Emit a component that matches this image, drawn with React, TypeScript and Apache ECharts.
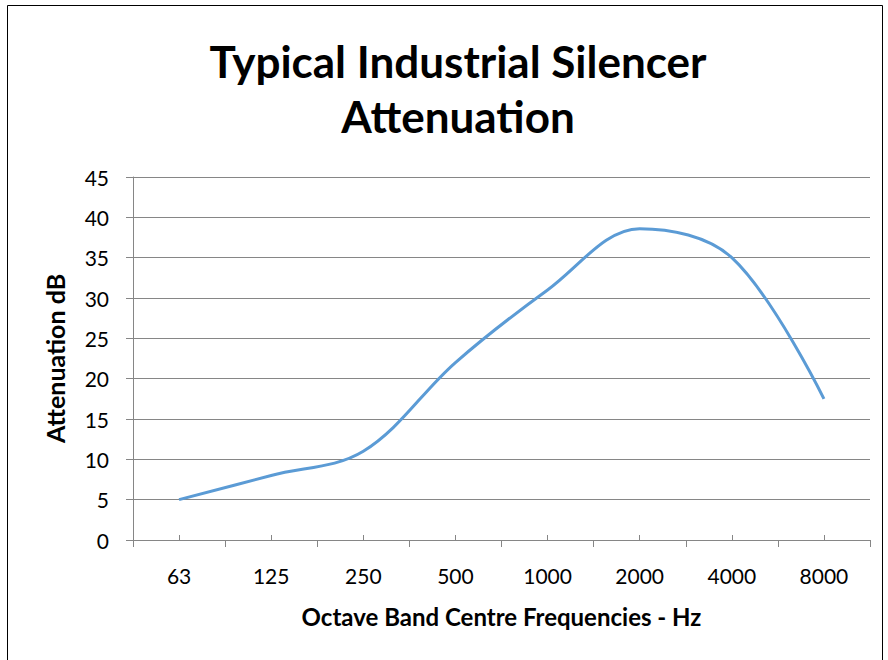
import React, { useEffect, useRef } from "react";
import * as echarts from "echarts";

const categories = ["63", "125", "250", "500", "1000", "2000", "4000", "8000"];
const attenuation = [5, 8, 11, 22, 31, 38.6, 35, 17.5];
const titleText = "Typical Industrial Silencer\nAttenuation";
const xName = "Octave Band Centre Frequencies - Hz";
const yName = "Attenuation dB";

export default function App() {
  const ref = useRef<HTMLDivElement>(null);
  useEffect(() => {
    if (!ref.current) return;
    const chart = echarts.init(ref.current, null, { renderer: "svg" });
    const font = "Lato, 'Open Sans', sans-serif";
    chart.setOption({
      animation: false,
      backgroundColor: "#ffffff",
      title: {
        text: titleText,
        left: 453,
        top: 28,
        textAlign: "center",
        textStyle: {
          fontFamily: font,
          fontWeight: "bold",
          fontSize: 44,
          lineHeight: 55,
          color: "#000000",
        },
      },
      graphic: [
        {
          type: "rect",
          shape: { x: 7.5, y: 5.5, width: 875, height: 700 },
          style: { fill: "none", stroke: "#000000", lineWidth: 1 },
          silent: true,
        },
      ],
      grid: { left: 133, right: 18, top: 177, bottom: 120, containLabel: false },
      xAxis: [
        {
          type: "category",
          data: categories,
          boundaryGap: true,
          name: xName,
          nameLocation: "middle",
          nameGap: 64,
          nameTextStyle: { fontFamily: font, fontWeight: "bold", fontSize: 24, color: "#000" },
          axisLine: { show: true, lineStyle: { color: "#868686", width: 1 } },
          axisTick: { show: true, alignWithLabel: false, length: 7, lineStyle: { color: "#868686" } },
          axisLabel: { fontFamily: font, fontSize: 21, color: "#000", margin: 25 },
          splitLine: { show: false },
        },
        {
          type: "category",
          data: categories,
          boundaryGap: true,
          position: "bottom",
          axisLine: { show: false },
          axisTick: { show: true, alignWithLabel: true, inside: true, length: 5, lineStyle: { color: "#868686" } },
          axisLabel: { show: false },
          splitLine: { show: false },
        },
      ],
      yAxis: {
        type: "value",
        min: 0,
        max: 45,
        interval: 5,
        name: yName,
        nameLocation: "middle",
        nameGap: 66,
        nameTextStyle: { fontFamily: font, fontWeight: "bold", fontSize: 25, color: "#000" },
        axisLine: { show: true, lineStyle: { color: "#868686", width: 1 } },
        axisTick: { show: true, length: 7, lineStyle: { color: "#868686" } },
        axisLabel: { fontFamily: font, fontSize: 21, color: "#000", margin: 24 },
        splitLine: { show: true, lineStyle: { color: "#868686", width: 1 } },
      },
      series: [
        {
          type: "line",
          data: attenuation,
          smooth: 0.35,
          showSymbol: false,
          symbol: "none",
          lineStyle: { color: "#5B9BD5", width: 3 },
          xAxisIndex: 0,
        },
      ],
    });
    return () => chart.dispose();
  }, []);
  return (
    <div
      ref={ref}
      style={{ position: "fixed", left: 0, top: 0, width: 888, height: 660, background: "#fff" }}
    />
  );
}
